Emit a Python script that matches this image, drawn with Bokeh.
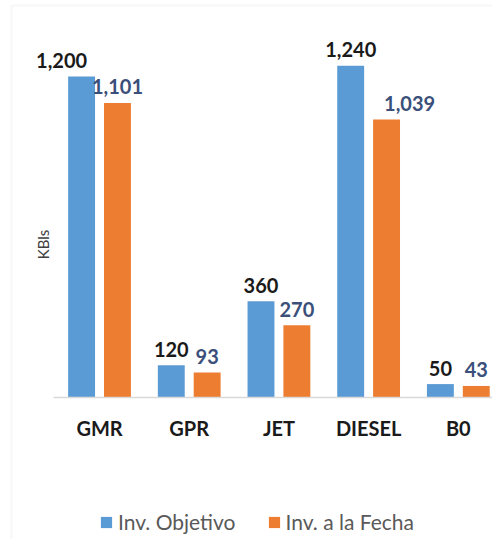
from bokeh.plotting import figure
from bokeh.models import ColumnDataSource, Range1d, Label, Legend, LegendItem, BoxAnnotation
from bokeh.core.properties import value
from bokeh.transform import dodge
from bokeh.embed import file_html
from bokeh.resources import INLINE

categories = ["GMR", "GPR", "JET", "DIESEL", "B0"]
inv_objetivo = [1200, 120, 360, 1240, 50]
inv_fecha = [1101, 93, 270, 1039, 43]
series_names = ["Inv. Objetivo", "Inv. a la Fecha"]

# style: per-label horizontal nudges in pixels (as in the original chart)
nudge_obj = [-20, 0, 0, 0, 0]
nudge_fecha = [0, 0, 0, 23, 0]

BLUE = "#5B9BD5"
ORANGE = "#ED7D31"
FONT = "Lato"

# layout (pixels -> data): 89.7 px per category, 0.2675 px per KBl
X0, X1 = -1.104, 4.381
AXIS_START = -0.513
Y0, Y1 = -531, 1484

idx = list(range(len(categories)))
src = ColumnDataSource(dict(
    x=idx, cat=categories, obj=inv_objetivo, fecha=inv_fecha,
    obj_txt=[f"{v:,}" for v in inv_objetivo],
    fecha_txt=[f"{v:,}" for v in inv_fecha],
    nobj=nudge_obj, nfecha=nudge_fecha,
    zero=[0] * len(categories),
))

p = figure(width=492, height=539, output_backend="svg", toolbar_location=None,
           x_range=Range1d(X0, X1), y_range=Range1d(Y0, Y1),
           min_border_left=0, min_border_right=0, min_border_top=0, min_border_bottom=0)
p.xaxis.visible = False
p.yaxis.visible = False
p.xgrid.visible = False
p.ygrid.visible = False
p.outline_line_color = None

# chart-area border (left and top edges visible)
p.add_layout(BoxAnnotation(left=11, right=520, top=534, bottom=-60,
                           left_units="screen", right_units="screen",
                           top_units="screen", bottom_units="screen",
                           fill_alpha=0, line_color="#e6e6e6", line_width=2))

r1 = p.vbar(x=dodge("x", -0.2, range=p.x_range), top="obj", width=0.30, source=src,
            fill_color=BLUE, line_color=None)
r2 = p.vbar(x=dodge("x", 0.2, range=p.x_range), top="fecha", width=0.30, source=src,
            fill_color=ORANGE, line_color=None)

# category axis line
p.segment(x0=[AXIS_START], y0=[0], x1=[X1], y1=[0], line_color="#d9d9d9", line_width=1.5)

p.text(x=dodge("x", -0.2, range=p.x_range), y="obj", text="obj_txt", source=src,
       x_offset="nobj", y_offset=-16, text_align="center", text_baseline="alphabetic",
       text_font=value(FONT), text_font_style="bold", text_font_size="20px",
       text_color="#1a1a1a")
p.text(x=dodge("x", 0.2, range=p.x_range), y="fecha", text="fecha_txt", source=src,
       x_offset="nfecha", y_offset=-16, text_align="center", text_baseline="alphabetic",
       text_font=value(FONT), text_font_style="bold", text_font_size="20px",
       text_color="#3a4f7a")

p.text(x="x", y="zero", text="cat", source=src, y_offset=31,
       text_align="center", text_baseline="middle",
       text_font=value(FONT), text_font_style="bold", text_font_size="20px",
       text_color="#1a1a1a")

p.add_layout(Label(x=42, y=572, x_units="screen", y_units="data", text="KBls", angle=90,
                   angle_units="deg", text_align="center", text_baseline="middle",
                   text_font=FONT, text_font_size="15px", text_color="#404040"))

legend = Legend(items=[LegendItem(label=series_names[0], renderers=[r1]),
                       LegendItem(label=series_names[1], renderers=[r2])],
                orientation="horizontal", location=(99, 5),
                glyph_width=14, glyph_height=14, label_standoff=5, spacing=31,
                padding=0, margin=0, border_line_color=None, background_fill_alpha=0,
                label_text_font=FONT, label_text_font_size="21px", label_text_color="#595959")
p.add_layout(legend)

open("out.html", "w").write(file_html(p, INLINE))
